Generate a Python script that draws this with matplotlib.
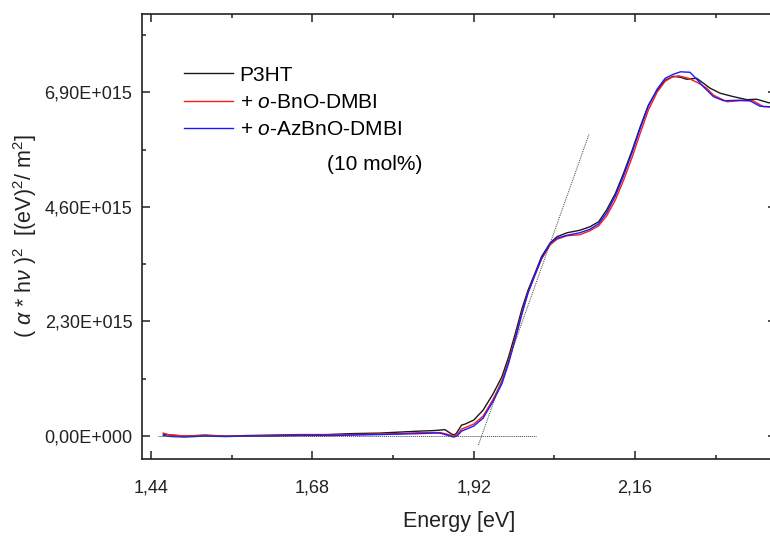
import numpy as np
import matplotlib
matplotlib.use("Agg")
import matplotlib.pyplot as plt
from matplotlib.ticker import FixedLocator, FuncFormatter

plt.rcParams['font.family'] = ['Liberation Sans', 'DejaVu Sans']
plt.rcParams['mathtext.fontset'] = 'custom'
plt.rcParams['mathtext.rm'] = 'Liberation Sans'
plt.rcParams['mathtext.it'] = 'Liberation Sans:italic'

# data (energy in eV, value in 1e15 (eV)^2/m^2)
e_p3ht = [1.458, 1.47, 1.49, 1.52, 1.55, 1.58, 1.62, 1.66, 1.70, 1.74, 1.78, 1.81, 1.84, 1.86,
          1.870, 1.877, 1.885, 1.890, 1.894, 1.902, 1.907, 1.920, 1.934, 1.949, 1.962, 1.972,
          1.982, 1.992, 2.001, 2.011, 2.021, 2.034, 2.044, 2.059, 2.078, 2.093, 2.106, 2.118,
          2.131, 2.143, 2.156, 2.168, 2.180, 2.193, 2.205, 2.217, 2.228, 2.237, 2.252, 2.262,
          2.272, 2.287, 2.307, 2.327, 2.341, 2.359, 2.372]
v_p3ht = [0.04, 0.02, 0.00, 0.02, 0.00, 0.01, 0.02, 0.03, 0.03, 0.05, 0.06, 0.08, 0.10, 0.11,
          0.12, 0.13, 0.06, 0.02, 0.05, 0.22, 0.24, 0.32, 0.52, 0.85, 1.19, 1.59,
          2.06, 2.56, 2.93, 3.26, 3.60, 3.88, 4.00, 4.08, 4.13, 4.20, 4.30, 4.54,
          4.87, 5.27, 5.74, 6.21, 6.64, 6.94, 7.14, 7.22, 7.20, 7.16, 7.18, 7.08,
          6.98, 6.88, 6.81, 6.75, 6.76, 6.69, 6.68]

e_bno = [1.458, 1.465, 1.49, 1.52, 1.55, 1.58, 1.62, 1.66, 1.70, 1.74, 1.78, 1.81, 1.84, 1.86,
         1.870, 1.880, 1.890, 1.895, 1.902, 1.920, 1.934, 1.949, 1.962, 1.972, 1.982, 1.992,
         2.001, 2.011, 2.021, 2.034, 2.044, 2.059, 2.078, 2.093, 2.106, 2.118, 2.131, 2.143,
         2.156, 2.168, 2.180, 2.193, 2.205, 2.215, 2.225, 2.240, 2.255, 2.267, 2.277, 2.297,
         2.317, 2.336, 2.351, 2.372]
v_bno = [0.06, 0.03, 0.00, 0.01, 0.00, 0.00, 0.01, 0.02, 0.02, 0.03, 0.04, 0.05, 0.07, 0.07,
         0.07, 0.04, 0.00, 0.02, 0.14, 0.24, 0.40, 0.74, 1.10, 1.50, 1.98, 2.48,
         2.88, 3.22, 3.55, 3.84, 3.95, 4.02, 4.04, 4.12, 4.22, 4.42, 4.74, 5.13,
         5.60, 6.08, 6.54, 6.90, 7.12, 7.20, 7.23, 7.18, 7.08, 6.98, 6.84, 6.71,
         6.73, 6.73, 6.61, 6.60]

e_azbno = [1.458, 1.47, 1.49, 1.52, 1.55, 1.58, 1.62, 1.66, 1.70, 1.74, 1.78, 1.81, 1.84, 1.86,
           1.870, 1.880, 1.890, 1.895, 1.902, 1.920, 1.934, 1.949, 1.962, 1.972, 1.982, 1.992,
           2.001, 2.011, 2.021, 2.034, 2.044, 2.059, 2.078, 2.093, 2.106, 2.118, 2.131, 2.143,
           2.156, 2.168, 2.180, 2.193, 2.205, 2.217, 2.228, 2.242, 2.252, 2.262, 2.277, 2.292,
           2.317, 2.331, 2.346, 2.372]
v_azbno = [0.01, -0.01, -0.02, 0.00, -0.01, 0.00, 0.00, 0.01, 0.01, 0.02, 0.03, 0.04, 0.05, 0.06,
           0.06, 0.02, -0.02, 0.00, 0.10, 0.20, 0.36, 0.70, 1.05, 1.46, 1.95, 2.46,
           2.88, 3.23, 3.57, 3.87, 3.97, 4.03, 4.08, 4.15, 4.26, 4.48, 4.82, 5.22,
           5.70, 6.18, 6.62, 6.96, 7.18, 7.26, 7.31, 7.30, 7.16, 7.01, 6.81, 6.73,
           6.74, 6.73, 6.62, 6.60]

# tangent and baseline used for the band gap
tan_e = [1.927, 2.092]
tan_v = [-0.18, 6.07]
base_e = [1.45, 2.013]
base_v = [0.0, 0.0]

labels = ['P3HT', r'+ $\mathit{o}$-BnO-DMBI', r'+ $\mathit{o}$-AzBnO-DMBI']
colors = ['#1a1a1a', '#ff1a1a', '#1a1aff']
x_major = [1.44, 1.68, 1.92, 2.16]
x_minor = [1.56, 1.80, 2.04, 2.28]
y_major = [0, 2.3e15, 4.6e15, 6.9e15]
y_minor = [1.15e15, 3.45e15, 5.75e15, 8.05e15]

fig = plt.figure(figsize=(7.7, 5.39), dpi=100)
ax = fig.add_axes([142 / 770, 80 / 539, 634 / 770, 445 / 539])

series = [(e_p3ht, v_p3ht), (e_bno, v_bno), (e_azbno, v_azbno)]
for (e, v), lab, c in zip(series, labels, colors):
    ax.plot(e, np.array(v) * 1e15, color=c, lw=1.0, label=lab)

ax.plot(tan_e, np.array(tan_v) * 1e15, ls=(0, (1, 1)), color='#444444', lw=0.7)
ax.plot(base_e, np.array(base_v) * 1e15, ls=(0, (1, 1)), color='#444444', lw=0.7)

ax.set_xlim(1.4263, 2.370)
ax.set_ylim(-0.46e15, 8.47e15)

ax.xaxis.set_major_locator(FixedLocator(x_major))
ax.xaxis.set_minor_locator(FixedLocator(x_minor))
ax.yaxis.set_major_locator(FixedLocator(y_major))
ax.yaxis.set_minor_locator(FixedLocator(y_minor))
ax.xaxis.set_major_formatter(FuncFormatter(lambda x, p: ('%.2f' % x).replace('.', ',')))


def yfmt(y, p):
    if y == 0:
        return '0,00E+000'
    return ('%.2fE+015' % (y / 1e15)).replace('.', ',')


ax.yaxis.set_major_formatter(FuncFormatter(yfmt))
ax.tick_params(which='both', direction='in', top=True, right=True, labelsize=13,
               width=1.1, color='#222222', labelcolor='#222222')
ax.tick_params(which='major', length=6)
ax.tick_params(which='minor', length=3)
ax.tick_params(axis='x', pad=15)
ax.tick_params(axis='y', pad=7)
for s in ax.spines.values():
    s.set_linewidth(1.2)
    s.set_color('#222222')

ax.set_xlabel('Energy [eV]', fontsize=15.5, labelpad=10, color='#222222')
ax.set_ylabel(r'( $\alpha$ * h$\nu$ )$^2$  [(eV)$^2$/ m$^2$]', fontsize=15.5, labelpad=4,
              color='#222222')

ax.legend(loc='upper left', bbox_to_anchor=(0.066, 0.884), frameon=False, fontsize=15,
          handlelength=2.35, handletextpad=0.33, labelspacing=0.4, borderaxespad=0,
          borderpad=0)
ax.text(0.292, 0.661, '(10 mol%)', transform=ax.transAxes, fontsize=15, va='center')

fig.savefig('out.png', dpi=100)
